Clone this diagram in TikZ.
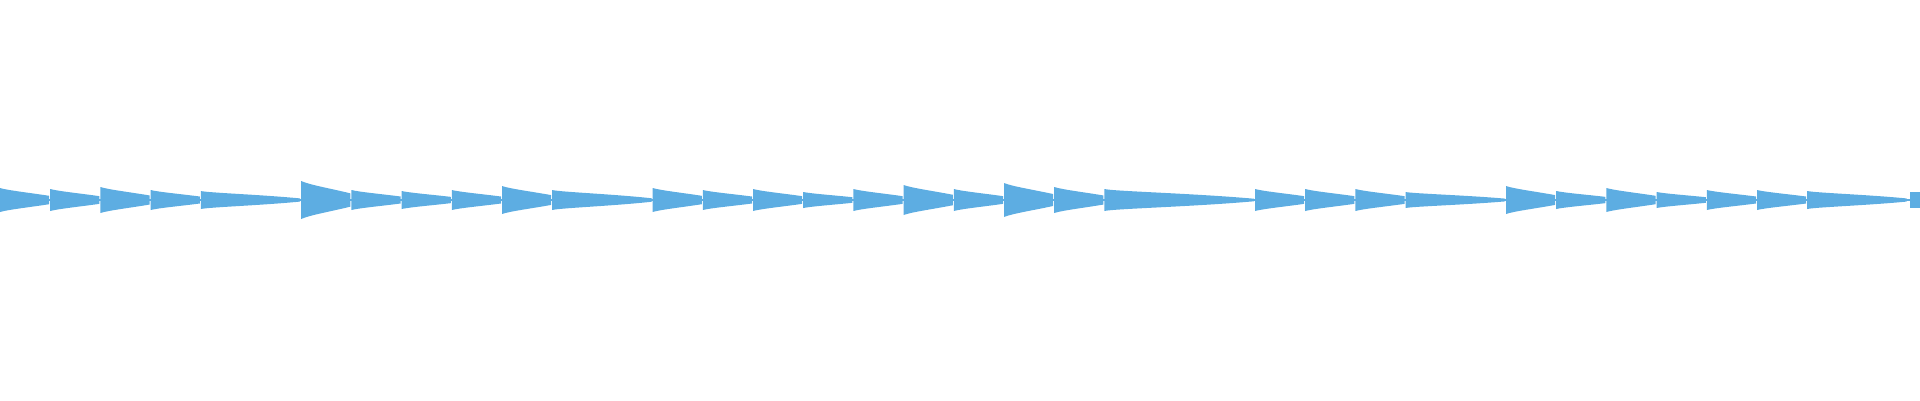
\documentclass[tikz,border=0pt]{standalone}
\definecolor{wavec}{RGB}{93,173,226}
\begin{document}
\begin{tikzpicture}[x=0.02cm,y=-0.02cm,wave/.style={fill=wavec,draw=none}]
\useasboundingbox (0,0) rectangle (1920,400);
\draw[wavec,line width=0.6pt] (0,200) -- (1920,200);
\foreach \n/\l/\a in {0/1/12,1/1/11,2/1/13,3/1/10,4/2/9,6/1/19,7/1/10,8/1/9,9/1/10,10/1/14,11/2/10,13/1/12,14/1/10,15/1/11,16/1/8,17/1/11,18/1/15,19/1/11,20/1/17,21/1/13,22/3/11,25/1/11,26/1/11,27/1/11,28/2/8,30/1/14,31/1/9,32/1/12,33/1/8,34/1/10,35/1/10,36/2/9}{
  \fill[wave] ({\n*50.2},{200-\a}) .. controls ({\n*50.2+8},{200-\a*0.8}) and ({\n*50.2+\l*30},{200-\a*0.6}) .. ({(\n+\l)*50.2-1},{200-\a*0.35/\l})
    -- ({(\n+\l)*50.2-1},{200+\a*0.35/\l}) .. controls ({\n*50.2+\l*30},{200+\a*0.6}) and ({\n*50.2+8},{200+\a*0.8}) .. ({\n*50.2},{200+\a}) -- cycle;
}
\fill[wave] (1910,192) rectangle (1920,208);
\end{tikzpicture}
\end{document}
